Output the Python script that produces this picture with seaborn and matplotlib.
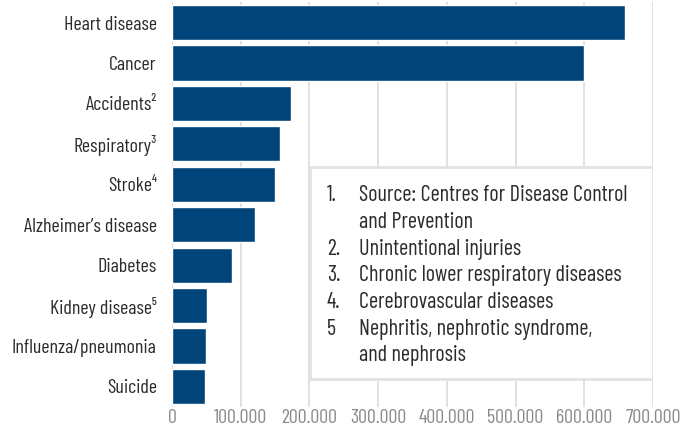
import matplotlib
matplotlib.use("Agg")
import matplotlib.pyplot as plt
from matplotlib.patches import Rectangle
import seaborn as sns
import pandas as pd

# leading causes of death (with footnote marks)
causes = ["Heart disease", "Cancer", "Accidents\u00b2", "Respiratory\u00b3", "Stroke\u2074",
          "Alzheimer\u2019s disease", "Diabetes", "Kidney disease\u2075",
          "Influenza/pneumonia", "Suicide"]
deaths = [659041, 599601, 173040, 156979, 150005, 121499, 87647, 51565, 49783, 47511]

xticks = [0, 100000, 200000, 300000, 400000, 500000, 600000, 700000]
xtick_labels = ["0", "100.000", "200.000", "300.000", "400.000", "500.000", "600.000", "700.000"]

notes_num = ["1.", "", "2.", "3.", "4.", "5", ""]
notes_txt = ["Source: Centres for Disease Control", "and Prevention", "Unintentional injuries",
             "Chronic lower respiratory diseases", "Cerebrovascular diseases",
             "Nephritis, nephrotic syndrome,", "and nephrosis"]

df = pd.DataFrame({"cause": causes, "deaths": deaths})

sns.set_style("white")
plt.rcParams["font.family"] = ["Barlow Condensed", "Roboto Condensed", "DejaVu Sans"]
plt.rcParams["font.weight"] = 400
fs = 14.4
fs_note = 16

fig = plt.figure(figsize=(6.94, 4.32), dpi=100)
ax = fig.add_axes([172 / 694, 1 - 406.7 / 432, 481 / 694, 404.4 / 432])

sns.barplot(data=df, x="deaths", y="cause", orient="h", color="#00447a",
            width=0.87, saturation=1, ax=ax, zorder=2)

ax.set_xlim(0, 700000)
ax.set_ylim(9.5, -0.5)
ax.set_xticks(xticks)
ax.set_xticklabels(xtick_labels)
ax.grid(axis="x", color="#dcdcdc", linewidth=1.2, zorder=0)
ax.set_axisbelow(True)
for s in ax.spines.values():
    s.set_visible(False)
ax.tick_params(axis="x", length=0, pad=2, labelsize=fs, labelcolor="#8a8a8a")
ax.tick_params(axis="y", length=0, pad=11, labelsize=fs, labelcolor="#2b2b2b")
ax.set_xlabel("")
ax.set_ylabel("")

# footnote box
box = Rectangle((0.287, 0.0685), 0.713, 0.5245, transform=ax.transAxes,
                facecolor="white", edgecolor="#e2e2e2", linewidth=2, zorder=5)
ax.add_patch(box)
y0 = 0.522
dy = 26.7 / 404.4
for i, (n, t) in enumerate(zip(notes_num, notes_txt)):
    y = y0 - i * dy
    ax.text(0.322, y, n, transform=ax.transAxes, fontsize=fs_note, color="#2b2b2b",
            va="center", ha="left", zorder=6)
    ax.text(0.389, y, t, transform=ax.transAxes, fontsize=fs_note, color="#2b2b2b",
            va="center", ha="left", zorder=6)

fig.savefig("out.png", dpi=100)
